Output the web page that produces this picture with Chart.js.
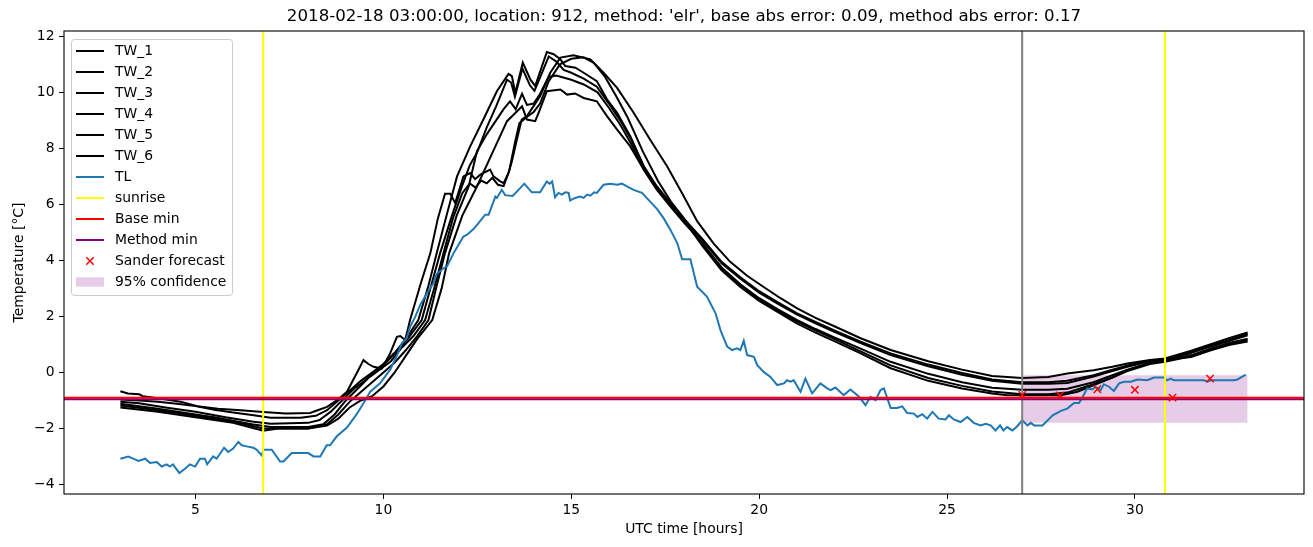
<!DOCTYPE html>
<html><head><meta charset="utf-8">
<script src="https://cdn.jsdelivr.net/npm/chart.js@4/dist/chart.umd.min.js"></script>
<style>html,body{margin:0;padding:0;background:#fff}canvas{display:block}</style>
</head><body>
<canvas id="c" width="1313" height="547"></canvas>
<script>
const titleText = "2018-02-18 03:00:00, location: 912, method: 'elr', base abs error: 0.09, method abs error: 0.17";
const xTicks = [5, 10, 15, 20, 25, 30];
const yTicks = [-4, -2, 0, 2, 4, 6, 8, 10, 12];
const sunriseHours = [6.8, 30.8];
const issueHour = 27;
const baseMin = -0.90;
const methodMin = -0.96;
const sanderHours = [27, 28, 29, 30, 31, 32];
const sanderTemps = [-0.80, -0.82, -0.60, -0.62, -0.90, -0.22];
const confHours = [27, 33];
const confUpper = -0.10;
const confLower = -1.80;

const tl = [[3.0,-3.08],[3.21,-3.0],[3.34,-3.08],[3.48,-3.16],[3.66,-3.08],[3.79,-3.23],[3.97,-3.2],[4.1,-3.36],[4.23,-3.28],[4.32,-3.36],[4.4,-3.28],[4.57,-3.59],[4.72,-3.44],[4.85,-3.28],[4.99,-3.36],[5.12,-3.08],[5.25,-3.08],[5.31,-3.28],[5.47,-3.0],[5.56,-3.08],[5.76,-2.69],[5.87,-2.84],[6.0,-2.72],[6.14,-2.48],[6.23,-2.6],[6.36,-2.64],[6.54,-2.69],[6.63,-2.76],[6.76,-2.96],[6.81,-2.76],[7.03,-2.76],[7.25,-3.18],[7.34,-3.18],[7.56,-2.88],[8.0,-2.88],[8.14,-3.0],[8.32,-3.0],[8.49,-2.6],[8.58,-2.6],[8.76,-2.28],[9.03,-1.97],[9.29,-1.49],[9.47,-1.1],[9.65,-0.69],[9.91,-0.39],[10.18,0.1],[10.36,0.6],[10.49,1.04],[10.62,1.22],[10.71,1.63],[10.85,1.99],[10.98,2.41],[11.16,2.83],[11.33,3.18],[11.42,3.52],[11.6,3.72],[11.69,3.78],[11.87,4.26],[12.0,4.56],[12.13,4.85],[12.22,4.91],[12.4,5.12],[12.53,5.33],[12.71,5.63],[12.8,5.63],[12.98,6.28],[13.02,6.23],[13.15,6.52],[13.24,6.33],[13.44,6.3],[13.64,6.58],[13.75,6.74],[13.95,6.43],[14.17,6.43],[14.35,6.82],[14.42,6.74],[14.49,6.82],[14.57,6.26],[14.66,6.41],[14.75,6.35],[14.84,6.43],[14.93,6.41],[14.97,6.14],[15.1,6.23],[15.24,6.28],[15.33,6.23],[15.42,6.35],[15.51,6.31],[15.61,6.43],[15.68,6.41],[15.86,6.7],[16.04,6.74],[16.22,6.7],[16.35,6.74],[16.48,6.64],[16.66,6.52],[16.88,6.41],[17.1,6.1],[17.28,5.84],[17.46,5.5],[17.64,5.09],[17.82,4.62],[17.95,4.04],[18.17,4.04],[18.35,3.06],[18.61,2.71],[18.84,2.11],[18.97,1.51],[19.15,0.92],[19.28,0.8],[19.41,0.86],[19.5,0.8],[19.59,1.13],[19.68,0.62],[19.86,0.56],[19.95,0.26],[20.12,0.02],[20.3,-0.16],[20.48,-0.45],[20.66,-0.39],[20.74,-0.28],[20.83,-0.33],[20.92,-0.28],[21.1,-0.69],[21.23,-0.22],[21.41,-0.75],[21.63,-0.39],[21.81,-0.57],[21.9,-0.63],[22.03,-0.54],[22.25,-0.81],[22.43,-0.61],[22.66,-0.87],[22.83,-1.17],[22.96,-0.87],[23.1,-0.99],[23.23,-0.63],[23.32,-0.57],[23.5,-1.27],[23.67,-1.27],[23.81,-1.21],[23.94,-1.45],[24.12,-1.47],[24.21,-1.59],[24.34,-1.49],[24.47,-1.65],[24.61,-1.41],[24.78,-1.65],[24.96,-1.68],[25.05,-1.53],[25.18,-1.68],[25.36,-1.77],[25.54,-1.59],[25.71,-1.8],[25.89,-1.89],[26.03,-1.83],[26.16,-1.89],[26.29,-2.07],[26.41,-1.89],[26.5,-2.07],[26.6,-1.95],[26.74,-2.07],[26.87,-1.92],[27.0,-1.71],[27.14,-1.89],[27.23,-1.8],[27.32,-1.89],[27.54,-1.89],[27.68,-1.71],[27.81,-1.53],[28.03,-1.37],[28.2,-1.29],[28.38,-1.09],[28.51,-1.09],[28.6,-0.9],[28.73,-0.57],[28.87,-0.61],[28.95,-0.51],[29.09,-0.63],[29.17,-0.42],[29.31,-0.51],[29.44,-0.66],[29.58,-0.39],[29.71,-0.33],[29.89,-0.33],[30.07,-0.25],[30.33,-0.28],[30.51,-0.18],[30.77,-0.18],[30.86,-0.28],[30.95,-0.22],[31.04,-0.28],[31.84,-0.28],[31.93,-0.33],[32.02,-0.28],[32.64,-0.28],[32.73,-0.25],[32.86,-0.15],[32.95,-0.08]];

const tw1 = [[3,-0.67],[3.2,-0.75],[3.5,-0.78],[3.6,-0.85],[4.05,-0.93],[4.6,-1.05],[5.1,-1.22],[5.6,-1.3],[6.2,-1.35],[6.8,-1.41],[7.4,-1.47],[8.05,-1.45],[8.25,-1.35],[8.5,-1.23],[8.76,-1.0],[9.03,-0.69],[9.3,0.0],[9.47,0.44],[9.6,0.3],[9.74,0.2],[9.96,0.14],[10.18,0.68],[10.36,1.27],[10.45,1.3],[10.58,1.16],[10.71,1.87],[11.0,3.2],[11.25,4.26],[11.45,5.5],[11.64,6.38],[11.78,6.38],[11.91,6.05],[12.13,7.0],[12.31,7.12],[12.44,6.9],[12.58,7.06],[12.84,7.24],[12.93,7.0],[13.11,6.82],[13.2,6.76],[13.33,7.12],[13.42,7.54],[13.55,8.3],[13.68,9.03],[13.82,9.15],[14.17,9.86],[14.44,10.7],[14.71,11.24],[15.06,11.32],[15.51,11.18],[15.86,10.7],[16.22,10.16],[16.66,9.27],[17.1,8.31],[17.55,7.36],[17.99,6.3],[18.35,5.4],[18.79,4.6],[19.23,3.95],[19.68,3.45],[20.12,3.05],[20.57,2.65],[21.0,2.3],[21.5,1.95],[22.0,1.65],[22.7,1.22],[23.5,0.8],[24.5,0.4],[25.4,0.1],[26.2,-0.13],[27.0,-0.2],[27.7,-0.16],[28.2,-0.04],[28.9,0.08],[29.4,0.2],[29.8,0.32],[30.4,0.44],[30.8,0.5],[31.5,0.78],[32.0,1.0],[32.5,1.22],[33.0,1.43]];
const tw2 = [[3,-0.97],[3.5,-1.0],[4.0,-1.05],[4.5,-1.12],[5.0,-1.2],[5.5,-1.33],[6.0,-1.43],[6.5,-1.52],[7.0,-1.62],[7.8,-1.62],[8.2,-1.55],[8.5,-1.35],[8.8,-1.0],[9.1,-0.65],[9.4,-0.3],[9.7,0.0],[10.0,0.3],[10.3,0.7],[10.6,1.2],[10.93,1.87],[11.2,3.1],[11.42,4.26],[11.7,5.7],[11.96,7.0],[12.31,8.07],[12.66,9.03],[13.02,10.04],[13.33,10.66],[13.42,10.58],[13.51,9.98],[13.71,11.06],[13.91,10.46],[14.04,10.22],[14.13,10.58],[14.35,11.44],[14.53,11.36],[14.71,11.18],[14.84,10.94],[15.11,10.88],[15.33,10.7],[15.68,10.4],[15.95,9.75],[16.22,9.27],[16.57,8.43],[16.93,7.36],[17.28,6.64],[17.64,6.05],[17.99,5.5],[18.5,4.75],[19,3.95],[19.5,3.4],[20,2.9],[20.5,2.5],[21,2.12],[21.5,1.8],[22,1.5],[22.7,1.1],[23.5,0.68],[24.5,0.28],[25.4,-0.02],[26.2,-0.25],[27,-0.35],[27.7,-0.35],[28.2,-0.3],[28.9,-0.1],[29.4,0.1],[29.8,0.25],[30.4,0.42],[30.8,0.45],[31.5,0.72],[32,0.95],[32.5,1.15],[33,1.38]];
const tw3 = [[3,-1.05],[3.5,-1.1],[4.2,-1.25],[5.0,-1.4],[5.8,-1.6],[6.5,-1.75],[7.0,-1.83],[8.0,-1.8],[8.3,-1.7],[8.6,-1.4],[8.9,-1.0],[9.2,-0.6],[9.5,-0.3],[9.8,0.05],[10.1,0.4],[10.4,0.8],[10.7,1.3],[11.02,1.87],[11.25,3.0],[11.51,4.26],[11.8,5.5],[12.09,6.64],[12.3,7.4],[12.49,7.84],[12.75,8.75],[13.0,9.5],[13.29,10.45],[13.4,10.35],[13.5,9.85],[13.7,10.85],[13.9,10.25],[14.02,10.05],[14.13,10.4],[14.4,11.28],[14.6,11.1],[14.8,10.8],[15.0,10.7],[15.33,10.49],[15.68,10.2],[16.0,9.6],[16.3,9.0],[16.6,8.3],[16.95,7.3],[17.3,6.55],[17.65,5.95],[18.0,5.45],[18.5,4.7],[19,3.9],[19.5,3.35],[20,2.85],[20.5,2.45],[21,2.07],[21.5,1.75],[22,1.45],[22.7,1.05],[23.5,0.62],[24.5,0.22],[25.4,-0.08],[26.2,-0.3],[27,-0.4],[27.7,-0.4],[28.2,-0.38],[28.9,-0.15],[29.4,0.05],[29.8,0.2],[30.4,0.4],[30.8,0.43],[31.5,0.7],[32,0.92],[32.5,1.12],[33,1.33]];
const tw4 = [[3,-1.12],[4,-1.3],[5,-1.5],[5.5,-1.6],[6.5,-1.85],[7.0,-1.95],[8.0,-1.95],[8.4,-1.85],[8.7,-1.5],[9.0,-1.0],[9.3,-0.6],[9.6,-0.2],[9.9,0.1],[10.2,0.4],[10.5,0.9],[10.8,1.3],[11.11,1.87],[11.35,3.0],[11.6,4.26],[11.85,5.5],[12.1,6.4],[12.3,6.75],[12.45,6.6],[12.6,6.85],[12.75,6.75],[12.9,6.95],[13.05,6.7],[13.2,6.65],[13.35,7.2],[13.5,8.2],[13.62,8.9],[13.8,9.1],[14.0,9.3],[14.17,9.6],[14.4,10.4],[14.7,11.0],[15.0,11.2],[15.33,11.25],[15.6,11.05],[15.9,10.55],[16.2,9.85],[16.5,9.1],[16.9,7.9],[17.3,6.85],[17.65,6.1],[18.0,5.5],[18.5,4.55],[19,3.7],[19.5,3.1],[20,2.6],[20.5,2.2],[21,1.82],[21.5,1.5],[22,1.2],[22.7,0.75],[23.5,0.25],[24.5,-0.2],[25.4,-0.48],[26.2,-0.68],[27,-0.78],[27.7,-0.78],[28.2,-0.72],[28.9,-0.42],[29.4,-0.18],[29.8,0.05],[30.4,0.3],[30.8,0.38],[31.5,0.58],[32,0.8],[32.5,1.0],[33,1.15]];
const tw5 = [[3,-1.18],[4,-1.35],[5,-1.55],[6,-1.75],[6.8,-2.0],[8,-2.0],[8.5,-1.85],[8.8,-1.5],[9.1,-1.05],[9.4,-0.7],[9.7,-0.35],[10.0,0.0],[10.3,0.35],[10.6,0.8],[10.9,1.3],[11.2,1.87],[11.4,3.0],[11.64,4.26],[11.95,5.6],[12.27,6.64],[12.49,7.9],[12.75,8.5],[13.0,9.0],[13.2,9.4],[13.37,9.68],[13.52,9.4],[13.69,9.95],[13.82,9.55],[14.0,9.6],[14.15,9.9],[14.4,10.55],[14.6,10.6],[15.0,10.45],[15.33,10.28],[15.7,10.0],[16.0,9.45],[16.3,8.85],[16.6,8.15],[16.95,7.2],[17.3,6.5],[17.65,5.9],[18.0,5.35],[18.5,4.6],[19,3.75],[19.5,3.15],[20,2.65],[20.5,2.25],[21,1.88],[21.5,1.55],[22,1.25],[22.7,0.85],[23.5,0.38],[24.5,-0.05],[25.4,-0.35],[26.2,-0.55],[27,-0.62],[27.7,-0.62],[28.2,-0.58],[28.9,-0.35],[29.4,-0.1],[29.8,0.1],[30.4,0.35],[30.8,0.4],[31.5,0.62],[32,0.85],[32.5,1.05],[33,1.2]];
const tw6 = [[3,-1.25],[4,-1.4],[5,-1.6],[6,-1.8],[6.8,-2.08],[7.2,-2.0],[8.0,-2.0],[8.5,-1.9],[8.8,-1.65],[9.1,-1.25],[9.4,-1.0],[9.7,-0.85],[10.0,-0.5],[10.3,0.0],[10.6,0.6],[10.9,1.2],[11.3,1.87],[11.55,3.0],[11.75,4.26],[12.1,5.6],[12.49,6.64],[12.9,7.84],[13.29,8.97],[13.69,9.5],[13.82,9.03],[14.04,8.97],[14.13,9.27],[14.35,10.04],[14.71,10.1],[14.89,9.92],[15.1,9.96],[15.33,9.8],[15.68,9.68],[15.95,9.15],[16.22,8.67],[16.57,8.07],[16.93,7.24],[17.28,6.52],[17.64,5.95],[17.99,5.45],[18.5,4.5],[19,3.65],[19.5,3.05],[20,2.55],[20.5,2.15],[21,1.75],[21.5,1.42],[22,1.12],[22.7,0.68],[23.5,0.15],[24.5,-0.3],[25.4,-0.57],[26.2,-0.75],[26.6,-0.81],[28.03,-0.81],[28.47,-0.69],[28.91,-0.45],[29.35,-0.21],[29.8,0.08],[30.24,0.26],[30.69,0.44],[31.5,0.55],[32,0.78],[32.5,0.98],[33,1.1]];

const X_MIN = 1.5, X_MAX = 34.5, Y_MIN = -4.34, Y_MAX = 12.19;
const FONT = 'DejaVu Sans';
const pts = a => a.map(([x, y]) => ({x, y}));
const fmt = v => String(v).replace('-', '\u2212');

const datasets = [];
datasets.push({label: '95% confidence', data: confHours.map(h => ({x: h, y: confUpper})),
  fill: {value: confLower}, backgroundColor: 'rgba(128,0,128,0.2)', borderWidth: 0, pointRadius: 0, order: 20});
[tw1, tw2, tw3, tw4, tw5, tw6].forEach((a, i) => datasets.push({label: 'TW_' + (i + 1), data: pts(a),
  borderColor: '#000000', borderWidth: 2, pointRadius: 0, fill: false, order: 10}));
datasets.push({label: 'TL', data: pts(tl), borderColor: '#1f77b4', borderWidth: 2, pointRadius: 0, fill: false, order: 9});
sunriseHours.forEach((h, i) => datasets.push({label: i === 0 ? 'sunrise' : 'sunrise2',
  data: [{x: h, y: Y_MIN - 5}, {x: h, y: Y_MAX + 5}], borderColor: '#ffff00', borderWidth: 2, pointRadius: 0, fill: false, order: 8}));
datasets.push({label: 'issue', data: [{x: issueHour, y: Y_MIN - 5}, {x: issueHour, y: Y_MAX + 5}],
  borderColor: '#808080', borderWidth: 2, pointRadius: 0, fill: false, order: 8});
datasets.push({label: 'Method min', data: [{x: X_MIN, y: methodMin}, {x: X_MAX, y: methodMin}],
  borderColor: '#800080', borderWidth: 2, pointRadius: 0, fill: false, order: 7});
datasets.push({label: 'Base min', data: [{x: X_MIN, y: baseMin}, {x: X_MAX, y: baseMin}],
  borderColor: '#ff0000', borderWidth: 2, pointRadius: 0, fill: false, order: 6});
datasets.push({label: 'Sander forecast', data: sanderHours.map((h, i) => ({x: h, y: sanderTemps[i]})),
  showLine: false, pointStyle: 'crossRot', pointRadius: 5.2, pointBorderWidth: 1.5,
  borderColor: '#ff0000', pointBorderColor: '#ff0000', backgroundColor: '#ff0000', order: 5});

const legendItems = [
  ['TW_1', 'line', '#000'], ['TW_2', 'line', '#000'], ['TW_3', 'line', '#000'], ['TW_4', 'line', '#000'],
  ['TW_5', 'line', '#000'], ['TW_6', 'line', '#000'], ['TL', 'line', '#1f77b4'], ['sunrise', 'line', '#ffff00'],
  ['Base min', 'line', '#ff0000'], ['Method min', 'line', '#800080'], ['Sander forecast', 'x', '#ff0000'],
  ['95% confidence', 'patch', 'rgba(128,0,128,0.2)']
];

const overlay = {
  id: 'overlay',
  afterDraw(chart) {
    const ctx = chart.ctx, a = chart.chartArea;
    ctx.save();
    // frame
    ctx.strokeStyle = '#000'; ctx.lineWidth = 1.1;
    ctx.strokeRect(a.left, a.top, a.right - a.left, a.bottom - a.top);
    // title
    ctx.fillStyle = '#000'; ctx.font = '16.67px "' + FONT + '"';
    ctx.textAlign = 'center'; ctx.textBaseline = 'middle';
    ctx.fillText(titleText, (a.left + a.right) / 2, 17);
    // legend
    const lx = 71.5, ly = 39.5, lw = 161, lh = 256, r = 3;
    ctx.beginPath();
    ctx.moveTo(lx + r, ly); ctx.lineTo(lx + lw - r, ly); ctx.arcTo(lx + lw, ly, lx + lw, ly + r, r);
    ctx.lineTo(lx + lw, ly + lh - r); ctx.arcTo(lx + lw, ly + lh, lx + lw - r, ly + lh, r);
    ctx.lineTo(lx + r, ly + lh); ctx.arcTo(lx, ly + lh, lx, ly + lh - r, r);
    ctx.lineTo(lx, ly + r); ctx.arcTo(lx, ly, lx + r, ly, r); ctx.closePath();
    ctx.fillStyle = 'rgba(255,255,255,0.8)'; ctx.fill();
    ctx.strokeStyle = '#cccccc'; ctx.lineWidth = 1; ctx.stroke();
    ctx.font = '13.9px "' + FONT + '"'; ctx.textAlign = 'left'; ctx.textBaseline = 'middle';
    legendItems.forEach(([label, kind, color], i) => {
      const cy = 51 + 21 * i;
      if (kind === 'line') {
        ctx.strokeStyle = color; ctx.lineWidth = 2;
        ctx.beginPath(); ctx.moveTo(76, cy); ctx.lineTo(104, cy); ctx.stroke();
      } else if (kind === 'x') {
        ctx.strokeStyle = color; ctx.lineWidth = 1.5; const s = 3.7;
        ctx.beginPath(); ctx.moveTo(90 - s, cy - s); ctx.lineTo(90 + s, cy + s);
        ctx.moveTo(90 - s, cy + s); ctx.lineTo(90 + s, cy - s); ctx.stroke();
      } else {
        ctx.fillStyle = color; ctx.fillRect(76, cy - 4.7, 28, 9.3);
      }
      ctx.fillStyle = '#000'; ctx.fillText(label, 115, cy);
    });
    ctx.restore();
  }
};

new Chart(document.getElementById('c'), {
  type: 'line',
  data: {datasets},
  plugins: [overlay],
  options: {
    responsive: false, animation: false, devicePixelRatio: 1,
    layout: {padding: {top: 31, right: 9, left: 0, bottom: 0}},
    elements: {line: {tension: 0}, point: {radius: 0}},
    plugins: {legend: {display: false}, tooltip: {enabled: false}, title: {display: false}},
    scales: {
      x: {
        type: 'linear', min: X_MIN, max: X_MAX,
        afterFit(s) { s.height = 53; },
        afterBuildTicks(s) { s.ticks = xTicks.map(v => ({value: v})); },
        grid: {display: true, drawOnChartArea: false, drawTicks: true, tickLength: 5, color: '#000', lineWidth: 1},
        border: {display: false},
        ticks: {color: '#000', font: {family: FONT, size: 13.9}, padding: 3, maxRotation: 0, autoSkip: false, callback: v => fmt(v)},
        title: {display: true, text: 'UTC time [hours]', color: '#000', font: {family: FONT, size: 13.9}, padding: {top: 0, bottom: 9.7}}
      },
      y: {
        type: 'linear', min: Y_MIN, max: Y_MAX,
        afterFit(s) { s.width = 64; },
        afterBuildTicks(s) { s.ticks = yTicks.map(v => ({value: v})); },
        grid: {display: true, drawOnChartArea: false, drawTicks: true, tickLength: 5, color: '#000', lineWidth: 1},
        border: {display: false},
        ticks: {color: '#000', font: {family: FONT, size: 13.9}, padding: 4.5, autoSkip: false, callback: v => fmt(v)},
        title: {display: true, text: 'Temperature [\u00b0C]', color: '#000', font: {family: FONT, size: 13.9}, padding: {top: 10.7, bottom: 0}}
      }
    }
  }
});
</script>
</body></html>
